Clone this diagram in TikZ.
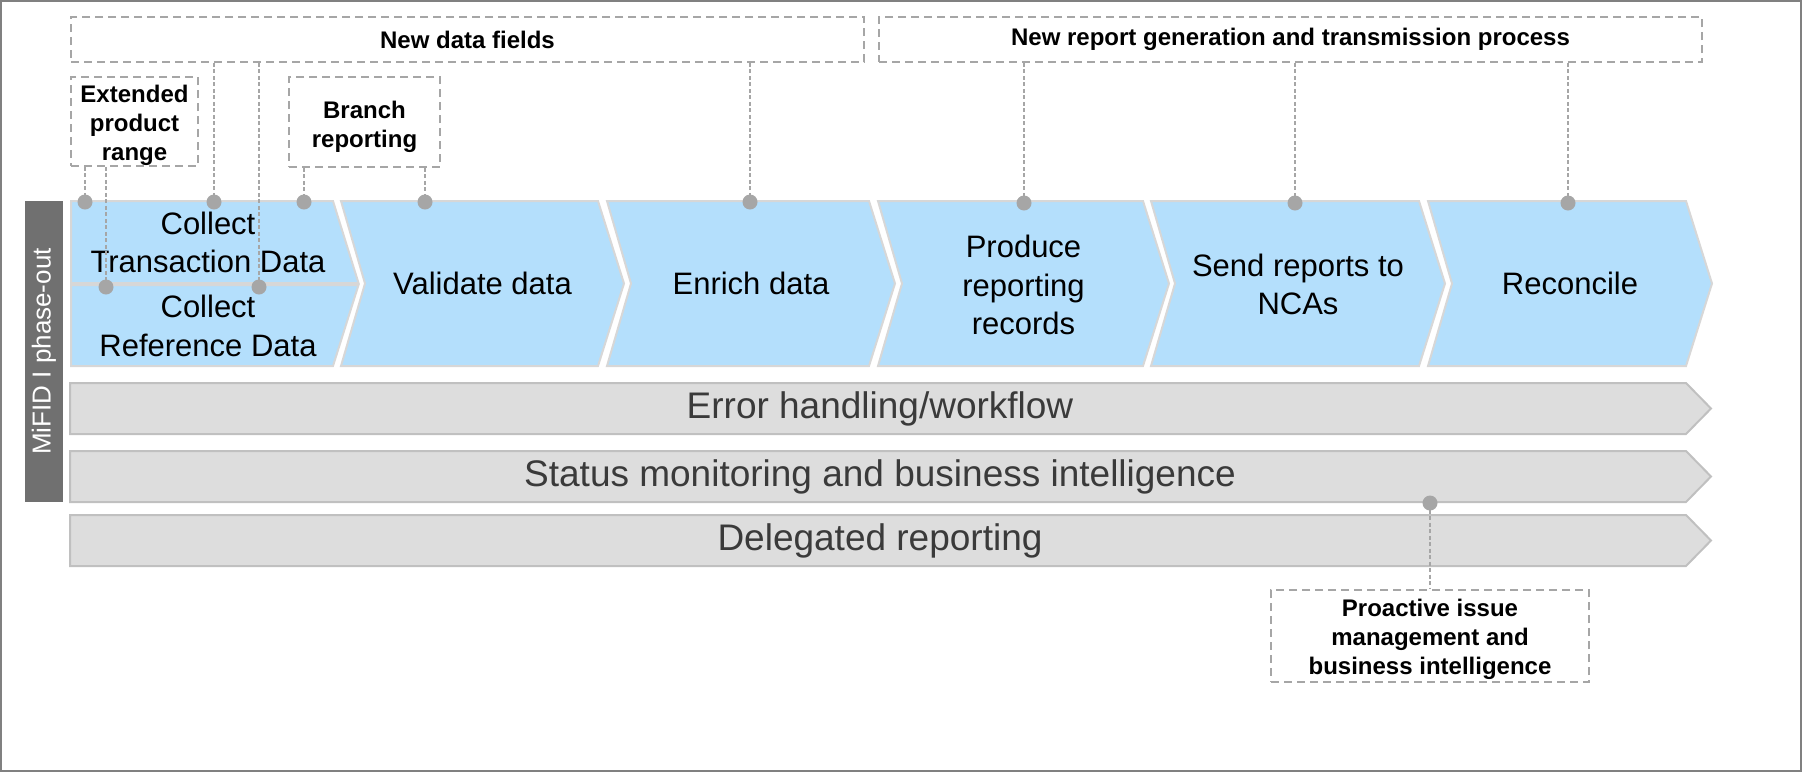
\documentclass[tikz,border=0pt]{standalone}
\usepackage{fontspec}
\setmainfont{Liberation Sans}
\definecolor{chevblue}{RGB}{180,223,252}
\definecolor{chevline}{RGB}{215,215,215}
\definecolor{barfill}{RGB}{221,221,221}
\definecolor{barline}{RGB}{192,192,192}
\definecolor{boxgray}{RGB}{166,166,166}
\definecolor{phasegray}{RGB}{112,112,112}
\definecolor{framegray}{RGB}{128,128,128}
\definecolor{bartext}{RGB}{58,58,58}
\tikzset{
  chev/.style={fill=chevblue, draw=chevline, line width=2pt, line join=miter},
  grbar/.style={fill=barfill, draw=barline, line width=2pt},
  dbox/.style={draw=boxgray, line width=1.8pt, dash pattern=on 8pt off 5pt, fill=white, inner sep=0pt},
  conn/.style={draw=boxgray, line width=1.2pt, dash pattern=on 4pt off 2.5pt},
  dot/.style={circle, fill=boxgray, inner sep=0pt, minimum size=15pt},
  ctext/.style={font=\fontsize{31}{38.5}\selectfont, align=center, text=black},
  btext/.style={font=\fontsize{37}{44}\selectfont, text=bartext},
  ltext/.style={font=\bfseries\fontsize{24}{29}\selectfont, align=center, text=black},
}
\begin{document}
\begin{tikzpicture}[x=1pt, y=-1pt]
\useasboundingbox (0,0) rectangle (1802,772);
\draw[framegray, line width=2pt] (1,1) rectangle (1801,771);

% side label
\node[fill=phasegray, minimum width=38pt, minimum height=301pt, inner sep=0pt] (phase) at (44,351.5) {};
\node[rotate=90, text=white, font=\fontsize{26}{30}\selectfont] (phasetxt) at (phase.center) {MiFID I phase-out};

% process chevrons
\path[chev] (71,201) -- (333,201) -- (358.5,283) -- (71,283) -- cycle;
\path[chev] (71,285) -- (358.5,285) -- (333,366) -- (71,366) -- cycle;
\path[chev] (341,201) -- (598,201) -- (624,283.5) -- (598,366) -- (341,366) -- (365,283.5) -- cycle;
\path[chev] (607,201) -- (869,201) -- (895,283.5) -- (869,366) -- (607,366) -- (631,283.5) -- cycle;
\path[chev] (878,201) -- (1143,201) -- (1169,283.5) -- (1143,366) -- (878,366) -- (902,283.5) -- cycle;
\path[chev] (1151,201) -- (1419,201) -- (1445,283.5) -- (1419,366) -- (1151,366) -- (1175,283.5) -- cycle;
\path[chev] (1428,201) -- (1686,201) -- (1712,283.5) -- (1686,366) -- (1428,366) -- (1452,283.5) -- cycle;

\node[ctext] (ctrans) at (208,242.5) {Collect\\Transaction Data};
\node[ctext] (cref) at (208,326) {Collect\\Reference Data};
\node[ctext] (validate) at (482.5,283.5) {Validate data};
\node[ctext] (enrich) at (751,283.5) {Enrich data};
\node[ctext] (produce) at (1023.5,285) {Produce\\reporting\\records};
\node[ctext] (send) at (1298,284.5) {Send reports to\\NCAs};
\node[ctext] (reconcile) at (1570,283.5) {Reconcile};

% cross-cutting bars
\path[grbar] (70,383) -- (1686,383) -- (1711,408.5) -- (1686,434) -- (70,434) -- cycle;
\path[grbar] (70,451) -- (1686,451) -- (1711,476.5) -- (1686,502) -- (70,502) -- cycle;
\path[grbar] (70,515) -- (1686,515) -- (1711,540.5) -- (1686,566) -- (70,566) -- cycle;
\node[btext] (errh) at (880,408.5) {Error handling/workflow};
\node[btext] (status) at (880,476.5) {Status monitoring and business intelligence};
\node[btext] (deleg) at (880,540.5) {Delegated reporting};

% annotation boxes
\node[dbox, minimum width=793pt, minimum height=45pt] (ndf) at (467.5,39.5) {};
\node[ltext] at (ndf.center) {New data fields};
\node[dbox, minimum width=823pt, minimum height=45pt] (nrg) at (1290.5,39.5) {};
\node[ltext] at (nrg.center) {New report generation and transmission process};
\node[dbox, minimum width=127pt, minimum height=89pt] (ext) at (134.5,121.5) {};
\node[ltext] at ([yshift=-4pt]ext.center) {Extended\\product\\range};
\node[dbox, minimum width=151pt, minimum height=90pt] (branch) at (364.5,122) {};
\node[ltext] at ([yshift=-5pt]branch.center) {Branch\\reporting};
\node[dbox, minimum width=318pt, minimum height=92pt] (proact) at (1430,636) {};
\node[ltext] at ([yshift=-3pt]proact.center) {Proactive issue\\management and\\business intelligence};

% anchor dots
\coordinate (d1) at (85,202);
\coordinate (d2) at (214,202);
\coordinate (d3) at (304,202);
\coordinate (d4) at (425,202);
\coordinate (d5) at (750,202);
\coordinate (d6) at (1024,203);
\coordinate (d7) at (1295,203);
\coordinate (d8) at (1568,203);
\coordinate (s1) at (106,287);
\coordinate (s2) at (259,287);
\coordinate (b1) at (1430,503);

% connectors
\draw[conn] (ext.south -| d1) -- (d1);
\draw[conn] (ext.south -| s1) -- (s1);
\draw[conn] (ndf.south -| d2) -- (d2);
\draw[conn] (ndf.south -| s2) -- (s2);
\draw[conn] (branch.south -| d3) -- (d3);
\draw[conn] (branch.south -| d4) -- (d4);
\draw[conn] (ndf.south -| d5) -- (d5);
\draw[conn] (nrg.south -| d6) -- (d6);
\draw[conn] (nrg.south -| d7) -- (d7);
\draw[conn] (nrg.south -| d8) -- (d8);
\draw[conn] (b1) -- (proact.north);

\foreach \p in {d1,d2,d3,d4,d5,d6,d7,d8,s1,s2,b1}
  \node[dot] at (\p) {};
\end{tikzpicture}
\end{document}
